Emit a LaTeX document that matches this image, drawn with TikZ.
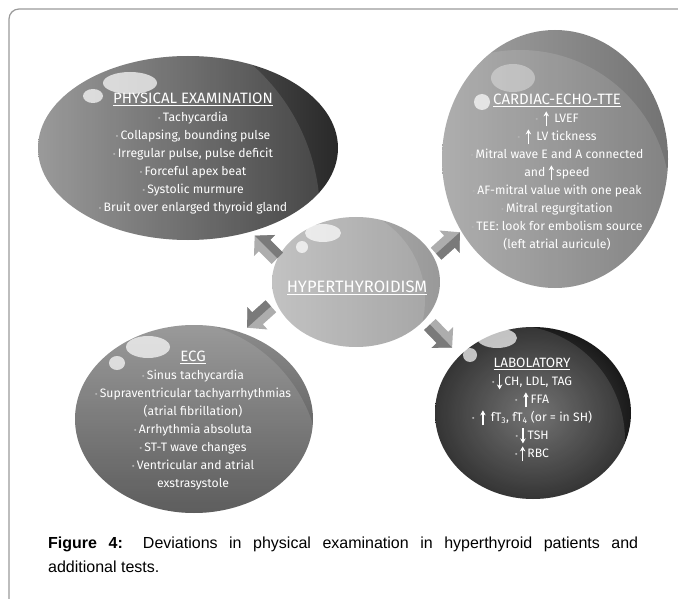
\documentclass[tikz,border=0pt]{standalone}
\usepackage{fontspec}
\setmainfont{Liberation Sans}
\newfontfamily\bubblefont{Fira Sans}
\usetikzlibrary{shapes.geometric,positioning,arrows.meta}

\tikzset{
  bubble/.style={ellipse, draw=none, inner sep=0pt, outer sep=0pt},
  bubbletext/.style={text=white, align=center, inner sep=0pt,
    font=\bubblefont\fontsize{12.2}{18}\selectfont},
  gloss/.style={fill=white, opacity=0.7},
  shine/.style={fill=white, opacity=0.12},
  textarrow/.style={white, line width=1.3pt, -{Stealth[length=5pt, width=5.5pt]}}
}
\newcommand{\bul}{{\color{black!30}\small\textbullet}\,}
\newcommand{\hd}[1]{\underline{\fontsize{15}{18}\selectfont #1}}
\newcommand{\up}{\tikz[x=1pt, y=1pt, baseline=0pt]\draw[textarrow] (0,-4) -- (0,11);\,}
\newcommand{\dn}{\tikz[x=1pt, y=1pt, baseline=0pt]\draw[textarrow] (0,11) -- (0,-4);\,}
% block arrow: x, y, angle
\newcommand{\hyperarrow}[3]{%
  \begin{scope}[shift={(#1,#2)}, rotate=#3]
    \fill[black!32] (-16,-8) -- (2,-8) -- (2,-15) -- (16,0) -- (2,15) -- (2,8) -- (-16,8) -- cycle;
    \fill[black!52] (-16,0) -- (16,0) -- (2,15) -- (2,8) -- (-16,8) -- cycle;
  \end{scope}}

\begin{document}
\begin{tikzpicture}[x=1pt, y=-1pt]
\useasboundingbox (0,0) rectangle (678,599);
% frame of the figure
\draw[black!40, line width=1.2pt, rounded corners=10pt] (9,599) -- (9,9) -- (678,9);

% physical examination bubble
\node[bubble, minimum width=300pt, minimum height=184pt,
  left color=black!45, right color=black!84] (phys) at (188,148) {};
\begin{scope}
  \clip (188,148) ellipse [x radius=150, y radius=92];
  \fill[shine] (120,215) circle (200);
\end{scope}
\fill[gloss] (130,83) ellipse [x radius=27, y radius=11];
\fill[gloss] (93,96) ellipse [x radius=10, y radius=7];

% cardiac echo bubble
\node[bubble, minimum width=226pt, minimum height=258pt,
  left color=black!36, right color=black!55] (echo) at (555,159) {};
\begin{scope}
  \clip (555,159) ellipse [x radius=113, y radius=129];
  \fill[shine] (520,200) circle (150);
\end{scope}
\fill[white, opacity=0.35] (513,78) ellipse [x radius=22, y radius=14];
\fill[gloss] (482,102) ellipse [x radius=8, y radius=8];

% hyperthyroidism bubble
\node[bubble, minimum width=168pt, minimum height=130pt,
  left color=black!27, right color=black!40] (hyper) at (356,282) {};
\begin{scope}
  \clip (356,282) ellipse [x radius=84, y radius=65];
  \fill[shine] (330,300) circle (95);
\end{scope}
\fill[gloss] (323,233) ellipse [x radius=18, y radius=9];
\fill[gloss] (302,247) ellipse [x radius=6, y radius=6];

% ecg bubble
\node[bubble, minimum width=238pt, minimum height=188pt,
  top color=black!45, bottom color=black!72] (ecg) at (194,419) {};
\begin{scope}
  \clip (194,419) ellipse [x radius=119, y radius=94];
  \fill[shine] (170,470) circle (150);
\end{scope}
\fill[gloss] (148,347) ellipse [x radius=22, y radius=11];
\fill[gloss] (117,363) ellipse [x radius=8, y radius=7];

% laboratory bubble
\node[bubble, minimum width=196pt, minimum height=172pt,
  inner color=black!62, outer color=black!90] (lab) at (533,413) {};
\begin{scope}
  \clip (533,413) ellipse [x radius=98, y radius=86];
  \fill[shine] (510,440) circle (115);
\end{scope}
\fill[gloss] (497,338) ellipse [x radius=20, y radius=10];
\fill[gloss] (470,355) ellipse [x radius=7, y radius=7];

% arrows from the centre
\hyperarrow{266}{247}{135}
\hyperarrow{448}{243}{42}
\hyperarrow{259}{317}{222}
\hyperarrow{441}{336}{-46}

% texts
\node[bubbletext] (physText) at (193,154) {\hd{PHYSICAL EXAMINATION}\\
  \bul Tachycardia\\
  \bul Collapsing, bounding pulse\\
  \bul Irregular pulse, pulse deficit\\
  \bul Forceful apex beat\\
  \bul Systolic murmure\\
  \bul Bruit over enlarged thyroid gland};
\node[bubbletext] (echoText) at (557,172) {\hd{CARDIAC-ECHO-TTE}\\
  \bul\ \up\ LVEF\\
  \bul\ \up\ LV tickness\\
  \bul Mitral wave E and A connected\\
  and \up speed\\
  \bul AF-mitral value with one peak\\
  \bul Mitral regurgitation\\
  \bul TEE: look for embolism source\\
  (left atrial auricule)};
\node[text=white, inner sep=0pt, font=\bubblefont\fontsize{16.5}{18}\selectfont] (hyperText)
  at (357,288) {\underline{HYPERTHYROIDISM}};
\node[bubbletext] (ecgText) at (193,421) {\hd{ECG}\\
  \bul Sinus tachycardia\\
  \bul Supraventricular tachyarrhythmias\\
  (atrial fibrillation)\\
  \bul Arrhythmia absoluta\\
  \bul ST-T wave changes\\
  \bul Ventricular and atrial\\
  exstrasystole};
\node[bubbletext] (labText) at (532,410) {\underline{\fontsize{13.5}{18}\selectfont LABOLATORY}\\
  \bul \dn CH, LDL, TAG\\
  \bul\ \up FFA\\
  \bul\ \up\ fT\textsubscript{3}, fT\textsubscript{4} (or = in SH)\\
  \bul \dn TSH\\
  \bul \up RBC};

% caption
\node[anchor=north west, align=left, inner sep=0pt,
  font=\fontsize{16}{24}\selectfont] (caption) at (48,537)
  {\makebox[590pt][s]{\textbf{Figure 4:} Deviations in physical examination in hyperthyroid patients and}\\
   additional tests.};
\end{tikzpicture}
\end{document}
